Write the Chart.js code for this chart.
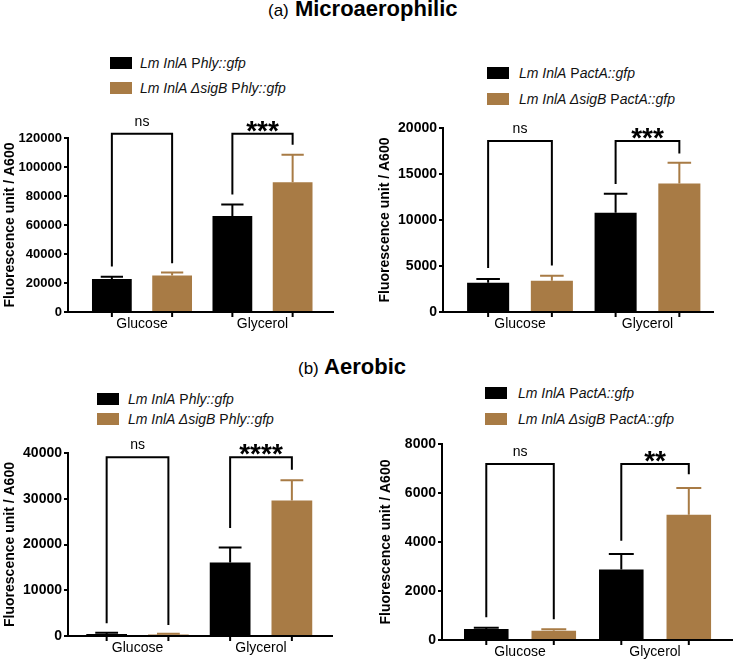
<!DOCTYPE html>
<html>
<head>
<meta charset="utf-8">
<script src="https://cdn.jsdelivr.net/npm/chart.js@4.4.1/dist/chart.umd.min.js"></script>
<style>
  body { margin: 0; background: #fff; font-family: 'Liberation Sans', Arial, sans-serif; }
  #page { position: relative; width: 735px; height: 662px; overflow: hidden; }
  canvas { position: absolute; }
  .title { position: absolute; white-space: nowrap; font-size: 22px; font-weight: bold; line-height: 22px; color: #000; }
  .title span { font-size: 17px; font-weight: normal; }
  .key { position: absolute; width: 22px; height: 12px; }
  .keytext { position: absolute; font-size: 14px; line-height: 16px; white-space: nowrap; color: #111; }
</style>
</head>
<body>
<div id="page">
  <div class="title" style="left:268px; top:-2px;"><span>(a)</span> Microaerophilic</div>
  <div class="title" style="left:298px; top:356px;"><span>(b)</span> Aerobic</div>
</div>
<script>
var categories = ['Glucose', 'Glycerol'];
var BLACK = '#000000';
var BROWN = '#A87B45';

var namesPhly = ['<i>Lm InlA</i> P<i>hly::gfp</i>', '<i>Lm InlA \u0394sigB</i> P<i>hly::gfp</i>'];
var namesPactA = ['<i>Lm InlA</i> P<i>actA::gfp</i>', '<i>Lm InlA \u0394sigB</i> P<i>actA::gfp</i>'];
var plainPhly = ['Lm InlA Phly::gfp', 'Lm InlA \u0394sigB Phly::gfp'];
var plainPactA = ['Lm InlA PactA::gfp', 'Lm InlA \u0394sigB PactA::gfp'];

// (a) microaerophilic, Phly::gfp
var microPhlyWt = [22700, 66200];
var microPhlyWtSd = [1600, 8000];
var microPhlySigB = [25200, 89500];
var microPhlySigBSd = [2000, 19000];
var microPhlyTicks = [0, 20000, 40000, 60000, 80000, 100000, 120000];
var microPhlySig = ['ns', '***'];
var microPhlyBracketTop = [123000, 123000];
var microPhlyBracketLegs = [[31400, 33700], [81000, 115400]];

// (a) microaerophilic, PactA::gfp
var microPactWt = [3180, 10790];
var microPactWtSd = [400, 2060];
var microPactSigB = [3390, 13970];
var microPactSigBSd = [540, 2240];
var microPactTicks = [0, 5000, 10000, 15000, 20000];
var microPactSig = ['ns', '***'];
var microPactBracketTop = [18600, 18600];
var microPactBracketLegs = [[4770, 5050], [13900, 17220]];

// (b) aerobic, Phly::gfp
var aeroPhlyWt = [450, 16060];
var aeroPhlyWtSd = [250, 3290];
var aeroPhlySigB = [330, 29640];
var aeroPhlySigBSd = [150, 4380];
var aeroPhlyTicks = [0, 10000, 20000, 30000, 40000];
var aeroPhlySig = ['ns', '****'];
var aeroPhlyBracketTop = [39050, 39050];
var aeroPhlyBracketLegs = [[2770, 2410], [23580, 36350]];

// (b) aerobic, PactA::gfp
var aeroPactWt = [450, 2875];
var aeroPactWtSd = [55, 640];
var aeroPactSigB = [382, 5111];
var aeroPactSigBSd = [55, 1090];
var aeroPactTicks = [0, 2000, 4000, 6000, 8000];
var aeroPactSig = ['ns', '**'];
var aeroPactBracketTop = [7180, 7180];
var aeroPactBracketLegs = [[930, 845], [4050, 6770]];

var panels = [
  { left: 0, top: 100, w: 367, h: 240, yW: 68, xH: 28, padTop: 38, padRight: 34, xMin: 0.386, xMax: 2.585,
    titlePad: 2, tickSize: 13, keyLeft: 110, keyTops: [57, 82], textLeft: 140,
    names: namesPhly, plain: plainPhly, wt: microPhlyWt, wtSd: microPhlyWtSd, sigB: microPhlySigB, sigBSd: microPhlySigBSd,
    yTicks: microPhlyTicks, sig: microPhlySig, bTop: microPhlyBracketTop, bLegs: microPhlyBracketLegs },
  { left: 368, top: 100, w: 367, h: 240, yW: 75, xH: 28, padTop: 28, padRight: 22, xMin: 0.396, xMax: 2.514,
    titlePad: 9, tickSize: 14, keyLeft: 487, keyTops: [67, 93], textLeft: 519,
    names: namesPactA, plain: plainPactA, wt: microPactWt, wtSd: microPactWtSd, sigB: microPactSigB, sigBSd: microPactSigBSd,
    yTicks: microPactTicks, sig: microPactSig, bTop: microPactBracketTop, bLegs: microPactBracketLegs },
  { left: 0, top: 430, w: 367, h: 232, yW: 68, xH: 26, padTop: 23, padRight: 35, xMin: 0.437, xMax: 2.575,
    titlePad: 2, tickSize: 14, keyLeft: 97, keyTops: [393, 413], textLeft: 128,
    names: namesPhly, plain: plainPhly, wt: aeroPhlyWt, wtSd: aeroPhlyWtSd, sigB: aeroPhlySigB, sigBSd: aeroPhlySigBSd,
    yTicks: aeroPhlyTicks, sig: aeroPhlySig, bTop: aeroPhlyBracketTop, bLegs: aeroPhlyBracketLegs },
  { left: 368, top: 430, w: 367, h: 232, yW: 74, xH: 22, padTop: 14, padRight: 3, xMin: 0.422, xMax: 2.570,
    titlePad: 10, tickSize: 14, keyLeft: 485, keyTops: [387, 413], textLeft: 518,
    names: namesPactA, plain: plainPactA, wt: aeroPactWt, wtSd: aeroPactWtSd, sigB: aeroPactSigB, sigBSd: aeroPactSigBSd,
    yTicks: aeroPactTicks, sig: aeroPactSig, bTop: aeroPactBracketTop, bLegs: aeroPactBracketLegs }
];

Chart.defaults.font.family = "'Liberation Sans', Arial, sans-serif";
Chart.defaults.color = '#000';

function toPoints(vals) {
  return vals.map(function (v, i) { return { x: i + 1, y: v }; });
}

// error bars, x tick marks and significance brackets
function makeMarks(p) {
  return {
    id: 'marks',
    afterDatasetsDraw: function (chart) {
      var ctx = chart.ctx;
      var y = chart.scales.y;
      var bottom = chart.chartArea.bottom;
      ctx.save();
      ctx.lineWidth = 2;
      chart.data.datasets.forEach(function (ds, di) {
        var meta = chart.getDatasetMeta(di);
        meta.data.forEach(function (bar, i) {
          var base = y.getPixelForValue(ds.data[i].y);
          var top = y.getPixelForValue(ds.data[i].y + ds.sd[i]);
          var cap = bar.width * 0.28;
          ctx.strokeStyle = ds.backgroundColor;
          ctx.beginPath();
          ctx.moveTo(bar.x, base);
          ctx.lineTo(bar.x, top);
          ctx.moveTo(bar.x - cap, top);
          ctx.lineTo(bar.x + cap, top);
          ctx.stroke();
          ctx.strokeStyle = '#000';
          ctx.beginPath();
          ctx.moveTo(bar.x, bottom);
          ctx.lineTo(bar.x, bottom + 5);
          ctx.stroke();
        });
      });
      var m0 = chart.getDatasetMeta(0), m1 = chart.getDatasetMeta(1);
      p.sig.forEach(function (lab, i) {
        var xl = m0.data[i].x, xr = m1.data[i].x;
        var yt = y.getPixelForValue(p.bTop[i]);
        ctx.strokeStyle = '#000';
        ctx.lineJoin = 'miter';
        ctx.beginPath();
        ctx.moveTo(xl, y.getPixelForValue(p.bLegs[i][0]));
        ctx.lineTo(xl, yt);
        ctx.lineTo(xr, yt);
        ctx.lineTo(xr, y.getPixelForValue(p.bLegs[i][1]));
        ctx.stroke();
        ctx.fillStyle = '#000';
        ctx.textAlign = 'center';
        ctx.textBaseline = 'alphabetic';
        if (lab === 'ns') {
          ctx.font = "14px 'Liberation Sans', Arial, sans-serif";
          ctx.fillText(lab, (xl + xr) / 2, yt - 8);
        } else {
          ctx.font = "bold 28px 'Liberation Sans', Arial, sans-serif";
          ctx.fillText(lab, (xl + xr) / 2, yt + 6);
        }
      });
      ctx.restore();
    }
  };
}

var page = document.getElementById('page');

panels.forEach(function (p) {
  // legend
  [BLACK, BROWN].forEach(function (col, k) {
    var sq = document.createElement('div');
    sq.className = 'key';
    sq.style.left = p.keyLeft + 'px';
    sq.style.top = p.keyTops[k] + 'px';
    sq.style.background = col;
    page.appendChild(sq);
    var tx = document.createElement('div');
    tx.className = 'keytext';
    tx.style.left = p.textLeft + 'px';
    tx.style.top = (p.keyTops[k] + 6 - 8) + 'px';
    tx.innerHTML = p.names[k];
    page.appendChild(tx);
  });

  var cv = document.createElement('canvas');
  cv.width = p.w;
  cv.height = p.h;
  cv.style.left = p.left + 'px';
  cv.style.top = p.top + 'px';
  cv.style.width = p.w + 'px';
  cv.style.height = p.h + 'px';
  page.appendChild(cv);

  new Chart(cv.getContext('2d'), {
    type: 'bar',
    data: {
      datasets: [
        { label: p.plain[0], data: toPoints(p.wt), sd: p.wtSd, backgroundColor: BLACK, borderWidth: 0 },
        { label: p.plain[1], data: toPoints(p.sigB), sd: p.sigBSd, backgroundColor: BROWN, borderWidth: 0 }
      ]
    },
    options: {
      responsive: false,
      animation: false,
      categoryPercentage: 1.0,
      barPercentage: 0.66,
      layout: { padding: { top: p.padTop, right: p.padRight, left: 0, bottom: 0 } },
      plugins: { legend: { display: false }, tooltip: { enabled: false } },
      scales: {
        x: {
          type: 'linear',
          min: p.xMin,
          max: p.xMax,
          bounds: 'data',
          offset: false,
          grid: { display: false, drawTicks: false, tickLength: 0 },
          border: { display: true, color: '#000', width: 2 },
          ticks: {
            padding: 4,
            autoSkip: false,
            maxRotation: 0,
            color: '#000',
            font: { size: 14 },
            callback: function (v) { return categories[Math.round(v) - 1]; }
          },
          afterBuildTicks: function (s) { s.ticks = [{ value: 1 }, { value: 2 }]; },
          afterFit: function (s) { s.height = p.xH; }
        },
        y: {
          min: 0,
          max: p.yTicks[p.yTicks.length - 1],
          grid: { drawOnChartArea: false, drawTicks: true, tickLength: 4, lineWidth: 2, color: '#000' },
          border: { display: true, color: '#000', width: 2 },
          ticks: {
            padding: 2,
            color: '#000',
            font: { size: p.tickSize, weight: 'bold' },
            callback: function (v) { return String(v); }
          },
          title: {
            display: true,
            text: 'Fluorescence unit / A600',
            color: '#000',
            font: { size: 14, weight: 'bold' },
            padding: { top: p.titlePad, bottom: 0 }
          },
          afterBuildTicks: function (s) { s.ticks = p.yTicks.map(function (v) { return { value: v }; }); },
          afterFit: function (s) { s.width = p.yW; }
        }
      }
    },
    plugins: [makeMarks(p)]
  });
});
</script>
</body>
</html>
